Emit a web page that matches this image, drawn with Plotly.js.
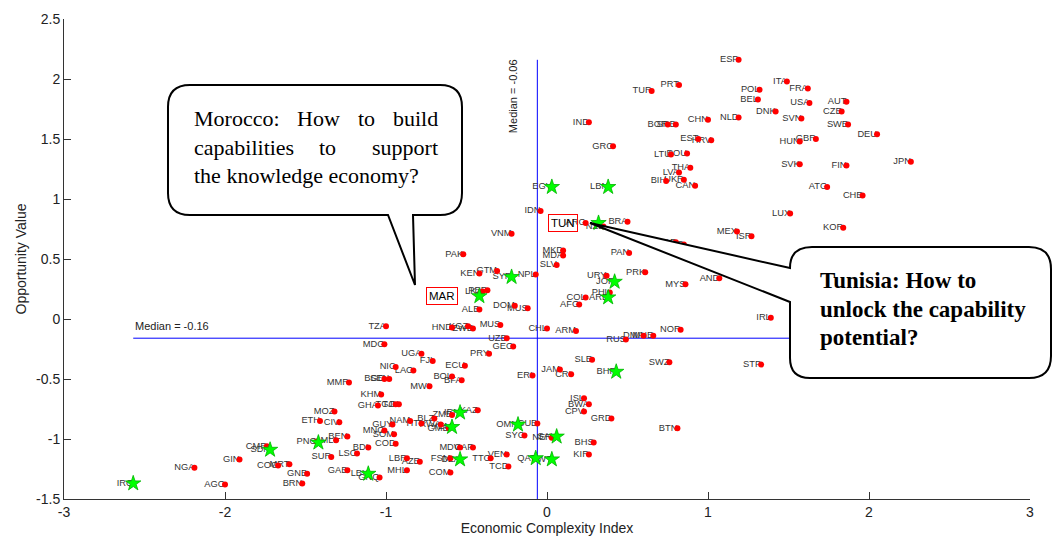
<!DOCTYPE html>
<html><head><meta charset="utf-8">
<script src="https://cdn.plot.ly/plotly-3.0.1.min.js"></script>
<style>html,body{margin:0;padding:0;background:#fff}</style>
</head><body><div id="chart" style="width:1053px;height:543px"></div>
<script>
// ---- data ----
const dotCodes = ['ESP','PRT','TUR','POL','ITA','FRA','BEL','USA','AUT','DNK','CZE','NLD','SVN','SWE','CHN','BGR','SRB','IND','DEU','GBR','HUN','EST','HRV','GRC','LTU','ROU','SVK','FIN','JPN','THA','LVA','BIH','UKR','CAN','ATG','CHE','LUX','KOR','MEX','ISR','IDN','ARG','NZL','BRA','ZAF','BLR','VNM','PAN','MKD','MDA','PAK','SLV','KEN','GTM','NPL','URY','PRK','AND','MYS','PER','LKA','PHL','COL','AFG','DOM','MUS','ALB','IRL','TZA','HND','KGZ','ZWE','MUS','CHL','ARM','NOR','DMA','MNE','RUS','UZB','GEO','MDG','UGA','FJI','PRY','SLE','SWZ','STP','NIC','LAO','ECU','JAM','CRI','ERI','BGD','SEN','MMR','BOL','BFA','MWI','KHM','ISL','GHA','TGO','TJK','BWA','CPV','MOZ','KAZ','ZMB','ETH','CIV','NAM','BLZ','HTI','RWA','GUY','GMB','GRD','BTN','CUB','MNG','SOM','SYC','NER','BEN','MLI','PNG','COD','BHS','CMR','BDI','MDV','CAF','LSO','KIR','VEN','SUR','LBR','FSM','TTO','GIN','AZE','COG','MRT','TCD','NGA','GAB','MHL','COM','GNB','GNQ','BRN','AGO'];
const dotX = [1.19,0.82,0.65,1.32,1.49,1.62,1.31,1.63,1.86,1.42,1.83,1.19,1.58,1.87,1.00,0.75,0.80,0.26,2.05,1.67,1.57,0.94,1.02,0.41,0.77,0.87,1.57,1.86,2.26,0.89,0.82,0.74,0.85,0.92,1.74,1.96,1.51,1.84,1.18,1.27,-0.04,0.24,0.35,0.50,0.80,0.85,-0.22,0.51,0.10,0.10,-0.52,0.06,-0.42,-0.31,-0.07,0.37,0.61,1.07,0.86,-0.37,-0.40,0.39,0.24,0.20,-0.20,-0.12,-0.42,1.39,-1.00,-0.59,-0.49,-0.46,-0.29,0.00,0.18,0.83,0.60,0.66,0.49,-0.25,-0.21,-1.01,-0.78,-0.71,-0.36,0.28,0.76,1.33,-0.94,-0.83,-0.51,0.08,0.15,-0.09,-1.01,-0.98,-1.23,-0.59,-0.53,-0.73,-1.03,0.23,-1.05,-0.94,-0.92,0.26,0.23,-1.32,-0.43,-0.59,-1.41,-1.29,-0.85,-0.70,-0.78,-0.66,-0.96,-0.61,0.40,0.81,-0.06,-1.01,-0.95,-0.14,0.03,-1.24,-1.31,-1.43,-0.94,0.29,-1.74,-1.11,-0.54,-0.46,-1.18,0.26,-0.25,-1.34,-0.87,-0.60,-0.35,-1.91,-0.79,-1.67,-1.60,-0.24,-2.19,-1.24,-0.87,-0.60,-1.49,-1.04,-1.52,-2.00];
const dotY = [2.16,1.95,1.90,1.91,1.98,1.92,1.83,1.80,1.81,1.73,1.73,1.68,1.67,1.62,1.66,1.62,1.62,1.64,1.54,1.50,1.48,1.50,1.49,1.44,1.37,1.38,1.29,1.28,1.31,1.26,1.22,1.15,1.16,1.11,1.10,1.03,0.88,0.76,0.73,0.69,0.90,0.80,0.77,0.81,0.64,0.62,0.71,0.55,0.57,0.53,0.54,0.45,0.38,0.40,0.37,0.36,0.39,0.34,0.29,0.24,0.23,0.22,0.18,0.12,0.11,0.09,0.08,0.01,-0.06,-0.07,-0.06,-0.08,-0.05,-0.08,-0.10,-0.09,-0.14,-0.14,-0.17,-0.16,-0.23,-0.21,-0.29,-0.35,-0.29,-0.34,-0.36,-0.38,-0.40,-0.43,-0.39,-0.42,-0.46,-0.47,-0.50,-0.50,-0.53,-0.48,-0.51,-0.56,-0.63,-0.66,-0.72,-0.71,-0.71,-0.71,-0.77,-0.77,-0.76,-0.80,-0.85,-0.86,-0.85,-0.83,-0.87,-0.88,-0.88,-0.91,-0.83,-0.91,-0.87,-0.93,-0.96,-0.97,-0.99,-0.98,-1.01,-1.02,-1.04,-1.03,-1.06,-1.07,-1.07,-1.07,-1.12,-1.13,-1.13,-1.15,-1.16,-1.16,-1.16,-1.17,-1.19,-1.22,-1.21,-1.23,-1.24,-1.26,-1.26,-1.28,-1.29,-1.32,-1.37,-1.38];
const starCodes = ['IRQ','SDN','','LBY','DZA','IRN','YEM','OMN','SAU','QAT','KWT','BHR','ARE','JOR','SYR','MAR','EGY','LBN','TUN'];
const starX = [-2.57,-1.72,-1.42,-1.11,-0.54,-0.54,-0.59,-0.18,0.06,-0.07,0.03,0.43,0.38,0.42,-0.22,-0.42,0.03,0.38,0.32];
const starY = [-1.37,-1.09,-1.03,-1.29,-1.17,-0.78,-0.90,-0.88,-0.98,-1.16,-1.17,-0.44,0.18,0.31,0.35,0.19,1.10,1.10,0.80];
const boxedCodes = ['MAR','TUN'];
const medianX = -0.06;
const medianY = -0.16;
const xTickVals = [-3,-2,-1,0,1,2,3];
const xTickText = ['-3','-2','-1','0','1','2','3'];
const yTickVals = [-1.5,-1,-0.5,0,0.5,1,1.5,2,2.5];
const yTickText = ['-1.5','-1','-0.5','0','0.5','1','1.5','2','2.5'];
const moroccoText = [['Morocco:','left',192,118],['How','center',318,118],['to','center',367,118],['build','right',440,118],
                     ['capabilities','left',192,147],['to','center',327,147],['support','right',440,147],
                     ['the knowledge economy?','left',192,176]];
const tunisiaText = ['Tunisia: How to','unlock the capability','potential?'];

// ---- layout helpers (pixel -> paper) ----
const L = 64, R = 23, T = 19, B = 44, W = 1053, H = 543;
const pw = W - L - R, ph = H - T - B;
const PX = p => ((p - L) / pw).toFixed(5);
const PY = p => ((H - B - p) / ph).toFixed(5);
const pt = (x, y) => PX(x) + ',' + PY(y);

const sans = 'Liberation Sans, Arial, Helvetica, sans-serif';
const serif = 'Liberation Serif, Times New Roman, serif';

// label trace (text only, right end at point)
const lblX = [], lblY = [], lblT = [];
dotCodes.forEach((c, i) => { lblX.push(dotX[i]); lblY.push(dotY[i]); lblT.push(c); });
starCodes.forEach((c, i) => { if (!boxedCodes.includes(c)) { lblX.push(starX[i]); lblY.push(starY[i]); lblT.push(c); } });

const traces = [
  {type:'scatter', mode:'text', x:lblX, y:lblY, text:lblT, textposition:'middle left',
   textfont:{family:sans, size:9.3, color:'#333'}, hoverinfo:'skip', showlegend:false, cliponaxis:false},
  {type:'scatter', mode:'markers', x:dotX, y:dotY, text:dotCodes,
   marker:{color:'#ff0000', size:6, line:{width:0}}, showlegend:false},
  {type:'scatter', mode:'markers', x:starX, y:starY, text:starCodes,
   marker:{symbol:'star', color:'#00ff00', size:11.5, line:{color:'#00b400', width:0.8}}, showlegend:false}
];

const allX = dotX.concat(starX), allY = dotY.concat(starY);
const minX = Math.min(...allX), maxY = Math.max(...allY);

const r1 = 22;
const morPath = 'M' + pt(168 + r1, 85) + ' L' + pt(462 - r1, 85) + ' Q' + pt(462, 85) + ' ' + pt(462, 85 + r1) +
  ' L' + pt(462, 215 - r1) + ' Q' + pt(462, 215) + ' ' + pt(462 - r1, 215) +
  ' L' + pt(413, 215) + ' L' + pt(415, 285) + ' L' + pt(388, 215) +
  ' L' + pt(168 + r1, 215) + ' Q' + pt(168, 215) + ' ' + pt(168, 215 - r1) +
  ' L' + pt(168, 85 + r1) + ' Q' + pt(168, 85) + ' ' + pt(168 + r1, 85) + ' Z';
const tunPath = 'M' + pt(790, 268) + ' Q' + pt(790, 247) + ' ' + pt(812, 247) +
  ' L' + pt(1029, 247) + ' Q' + pt(1051, 247) + ' ' + pt(1051, 269) +
  ' L' + pt(1051, 356) + ' Q' + pt(1051, 378) + ' ' + pt(1029, 378) +
  ' L' + pt(810, 378) + ' Q' + pt(790, 378) + ' ' + pt(790, 358) +
  ' L' + pt(790, 302) + ' L' + pt(590, 223) + ' Z';

const shapes = [
  {type:'line', xref:'x', yref:'y', x0:medianX, x1:medianX, y0:-1.5, y1:maxY, line:{color:'#0000ff', width:1}, layer:'below'},
  {type:'line', xref:'x', yref:'y', x0:minX, x1:3, y0:medianY, y1:medianY, line:{color:'#0000ff', width:1}, layer:'below'},
  {type:'path', xref:'paper', yref:'paper', path:morPath, fillcolor:'#ffffff', line:{color:'#000', width:2}},
  {type:'path', xref:'paper', yref:'paper', path:tunPath, fillcolor:'#ffffff', line:{color:'#000', width:2}}
];

const annotations = [];
annotations.push({xref:'x', yref:'y', x:minX, y:medianY, text:'Median = ' + medianY.toFixed(2), showarrow:false,
  xanchor:'left', yanchor:'bottom', yshift:4, font:{family:sans, size:11, color:'#222'}});
annotations.push({xref:'x', yref:'y', x:medianX, y:maxY, text:'Median = ' + medianX.toFixed(2), showarrow:false, textangle:-90,
  xanchor:'right', yanchor:'top', xshift:-17, yshift:3, font:{family:sans, size:11, color:'#222'}});
boxedCodes.forEach(c => {
  const i = starCodes.indexOf(c);
  annotations.push({xref:'x', yref:'y', x:starX[i], y:starY[i], text:c, showarrow:false, xanchor:'right', yanchor:'middle',
    xshift:-21, font:{family:sans, size:11.5, color:'#000'}, bordercolor:'#ff0000', borderwidth:1, borderpad:2, bgcolor:'rgba(255,255,255,0)'});
});
moroccoText.forEach(([t, a, x, y]) => {
  annotations.push({xref:'paper', yref:'paper', x:+PX(x), y:+PY(y), text:t, showarrow:false, xanchor:a, yanchor:'middle',
    font:{family:serif, size:22, color:'#000'}});
});
tunisiaText.forEach((t, k) => {
  annotations.push({xref:'paper', yref:'paper', x:+PX(818), y:+PY(280 + 29 * k), text:'<b>' + t + '</b>', showarrow:false,
    xanchor:'left', yanchor:'middle', font:{family:serif, size:23, color:'#000'}});
});

const axisCommon = {showgrid:false, zeroline:false, showline:true, linecolor:'#333', linewidth:1,
  ticks:'inside', ticklen:7, tickcolor:'#333', tickfont:{family:sans, size:14, color:'#222'}, mirror:false};

const layout = {
  width:W, height:H, margin:{l:L, r:R, t:T, b:B}, paper_bgcolor:'#fff', plot_bgcolor:'#fff',
  showlegend:false, hovermode:'closest',
  xaxis:Object.assign({}, axisCommon, {range:[-3,3], tickvals:xTickVals, ticktext:xTickText,
    title:{text:'Economic Complexity Index', font:{family:sans, size:14, color:'#222'}, standoff:4}}),
  yaxis:Object.assign({}, axisCommon, {range:[-1.5,2.5], tickvals:yTickVals, ticktext:yTickText,
    title:{text:'Opportunity Value', font:{family:sans, size:14, color:'#222'}, standoff:6}}),
  shapes:shapes, annotations:annotations
};
Plotly.newPlot('chart', traces, layout, {displayModeBar:false, staticPlot:true});
</script></body></html>
